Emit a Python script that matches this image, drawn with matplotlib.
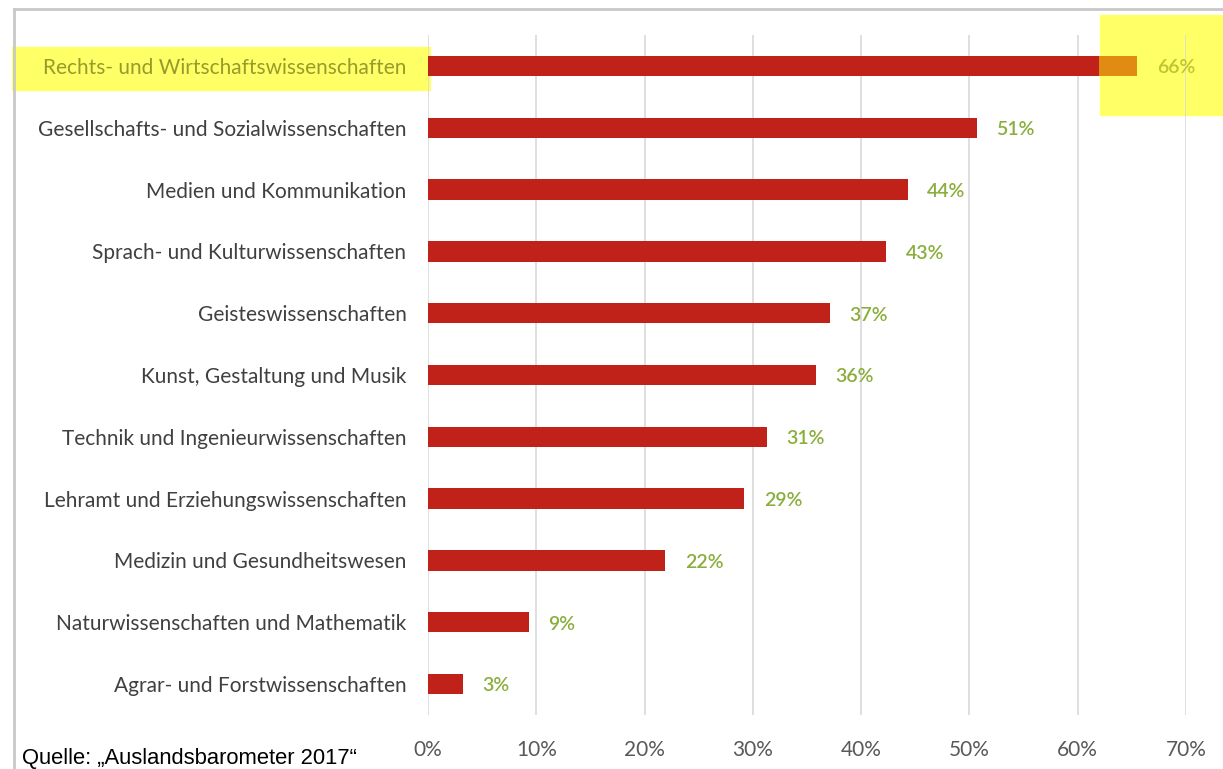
import matplotlib.pyplot as plt
from matplotlib.lines import Line2D
from matplotlib.patches import Rectangle

# Fächergruppen, von oben nach unten
faecher = [
    "Rechts- und Wirtschaftswissenschaften",
    "Gesellschafts- und Sozialwissenschaften",
    "Medien und Kommunikation",
    "Sprach- und Kulturwissenschaften",
    "Geisteswissenschaften",
    "Kunst, Gestaltung und Musik",
    "Technik und Ingenieurwissenschaften",
    "Lehramt und Erziehungswissenschaften",
    "Medizin und Gesundheitswesen",
    "Naturwissenschaften und Mathematik",
    "Agrar- und Forstwissenschaften",
]
# Anteile (Balkenlänge) und die Beschriftungen daneben
anteile = [0.655, 0.507, 0.443, 0.423, 0.371, 0.358, 0.313, 0.292, 0.219, 0.093, 0.032]
beschriftung = ["66%", "51%", "44%", "43%", "37%", "36%", "31%", "29%", "22%", "9%", "3%"]
xticks = [0, 0.1, 0.2, 0.3, 0.4, 0.5, 0.6, 0.7]
xticklabels = ["0%", "10%", "20%", "30%", "40%", "50%", "60%", "70%"]

W, H = 1223, 769
fig = plt.figure(figsize=(W / 100, H / 100), dpi=100)
ax = fig.add_axes([428 / W, 1 - 715 / H, (1186 - 428) / W, (715 - 35) / H])

font = "Lato"
rot = "#c0221a"
gruen = "#8aae3c"

# gelbe Markierungen (Textmarker), hinter dem Diagramm
gelb = "#ffff66"
fig.patches.append(Rectangle((12 / W, 1 - 90 / H), (430 - 12) / W, 43 / H,
                             transform=fig.transFigure, color=gelb, zorder=-1))
fig.patches.append(Rectangle((1100 / W, 1 - 115 / H), (W - 1100) / W, 100 / H,
                             transform=fig.transFigure, color=gelb, zorder=-1))
ax.patch.set_alpha(0)

pos = list(range(len(faecher)))
ax.barh(pos, anteile, height=0.33, color=rot, zorder=3)
# der markierte Teil des ersten Balkens wirkt orange
ax.barh(0, anteile[0] - 0.6196, left=0.6196, height=0.33, color="#e08b12", zorder=4)

for i, (v, t) in enumerate(zip(anteile, beschriftung)):
    farbe = "#bfc435" if i == 0 else gruen
    ax.text(v + 0.018, i + 0.03, t, va="center", ha="left", fontsize=14,
            color=farbe, family=font, fontweight="semibold", zorder=5)

ax.set_xlim(0, 0.7)
ax.set_ylim(10.5, -0.5)
ax.set_yticks(pos)
ax.set_yticklabels(faecher, family=font, fontsize=15, color="#404040")
ax.get_yticklabels()[0].set_color("#999a2c")
ax.set_xticks(xticks)
ax.set_xticklabels(xticklabels, family=font, fontsize=15, color="#595959")
ax.tick_params(axis="y", length=0, pad=15.5)
ax.tick_params(axis="x", length=0, pad=18)
ax.grid(axis="x", color="#d9d9d9", linewidth=1.2, zorder=0)
ax.set_axisbelow(True)
for s in ax.spines.values():
    s.set_visible(False)

# Rahmen um das Diagramm
fig.lines.append(Line2D([14 / W, 14 / W], [0, 1 - 9 / H], transform=fig.transFigure,
                        color="#c8c8c8", linewidth=2))
fig.lines.append(Line2D([14 / W, 1], [1 - 9 / H, 1 - 9 / H], transform=fig.transFigure,
                        color="#c8c8c8", linewidth=2))

fig.text(22 / W, 1 - 764 / H, "Quelle: \u201eAuslandsbarometer 2017\u201c",
         family="Liberation Sans", fontsize=15.8, color="black", va="baseline")

fig.savefig("out.png", dpi=100)
